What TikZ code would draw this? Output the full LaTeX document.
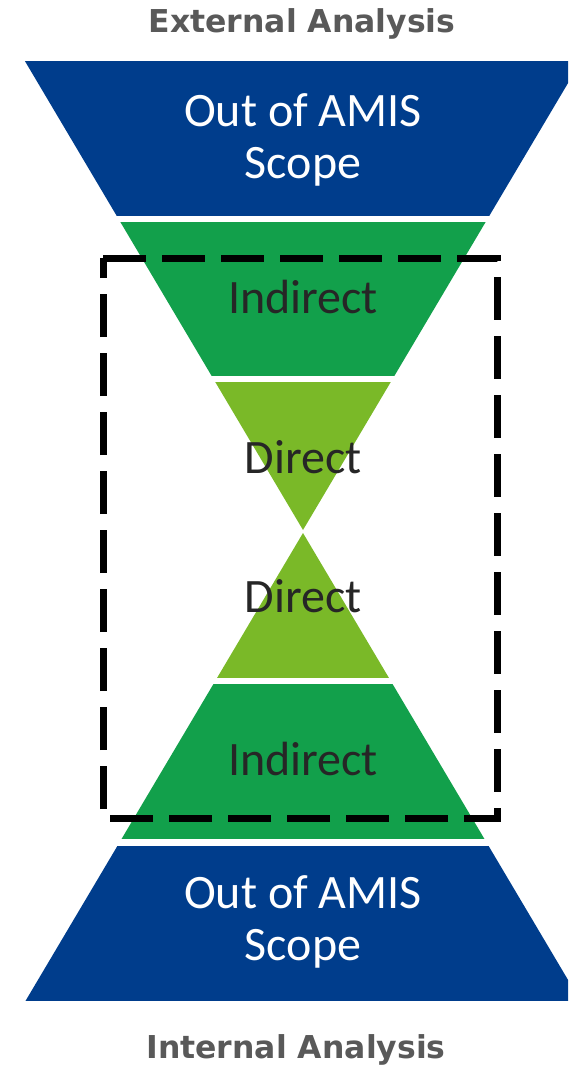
\documentclass[tikz,border=0pt]{standalone}
\usepackage{fontspec}
\setmainfont{Carlito}
\newfontfamily\titlefont{DejaVu Sans}
\usepackage{tikz}
\usetikzlibrary{positioning}

\definecolor{amisblue}{RGB}{0,61,140}
\definecolor{indirectgreen}{RGB}{18,160,75}
\definecolor{directgreen}{RGB}{122,185,40}
\definecolor{titlegray}{RGB}{89,89,89}

\tikzstyle{bandlabel} = [align=center, font=\fontsize{48}{52}\selectfont, text=black!85]
\tikzstyle{scopelabel} = [bandlabel, text=white]
\tikzstyle{title} = [font=\titlefont\bfseries\fontsize{31.5}{36}\selectfont, text=titlegray]
\tikzstyle{focusbox} = [draw=black, line width=7pt, dash pattern=on 43pt off 16pt]

\begin{document}
\begin{tikzpicture}[x=1pt, y=-1pt]

		\useasboundingbox (0,0) rectangle (568,1065);

		% Upper funnel: one big triangle cut into bands
		\coordinate (topapex) at (303,530);
		\foreach \ya/\yb/\col in {62/215/amisblue, 222/375/indirectgreen, 382/530/directgreen} {
			\begin{scope}
				\clip (0,\ya) rectangle (568,\yb);
				\fill[\col] (-11.3,0) -- (617.3,0) -- (topapex) -- cycle;
			\end{scope}
		}

		% Lower funnel, mirrored
		\coordinate (botapex) at (303,533);
		\foreach \ya/\yb/\col in {533/677/directgreen, 684/838/indirectgreen, 846/1000/amisblue} {
			\begin{scope}
				\clip (0,\ya) rectangle (568,\yb);
				\fill[\col] (-12.5,1065) -- (618.5,1065) -- (botapex) -- cycle;
			\end{scope}
		}

		% Labels
		\node[title] (ext) at (302,24) {External Analysis};
		\node[scopelabel] (outtop) at (303,140) {Out of AMIS\\Scope};
		\node[bandlabel] (indtop) at (303,297) {Indirect};
		\node[bandlabel] (dirtop) at (303,457) {Direct};
		\node[bandlabel] (dirbot) at (303,596) {Direct};
		\node[bandlabel] (indbot) at (303,759) {Indirect};
		\node[scopelabel] (outbot) at (303,922) {Out of AMIS\\Scope};
		\node[title] (int) at (296,1050) {Internal Analysis};

		% Dashed frame round the direct/indirect part
		\draw[focusbox] (103,258) -- (497,258) -- (497,818) -- (103,818) -- cycle;
	\end{tikzpicture}
\end{document}
